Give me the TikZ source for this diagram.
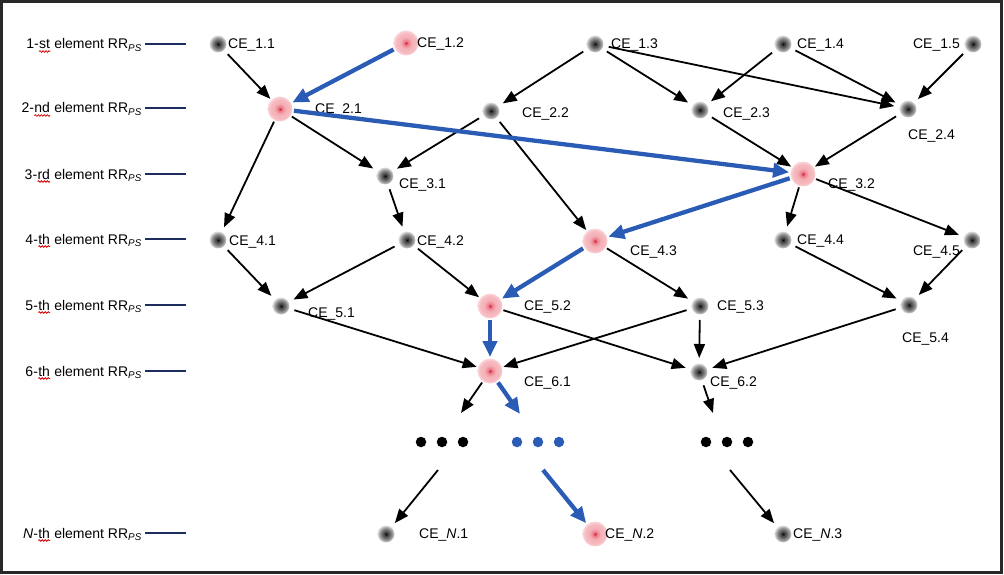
\documentclass[tikz,border=0pt]{standalone}
\usepackage{fontspec}
\setmainfont{Liberation Sans}
\usetikzlibrary{arrows.meta,decorations.pathmorphing}
\definecolor{pathblue}{RGB}{43,92,181}
\definecolor{navy}{RGB}{30,45,95}
\definecolor{framec}{RGB}{40,40,40}
\definecolor{rcore}{RGB}{205,30,60}
\definecolor{rmid}{RGB}{236,120,135}
\definecolor{rpink}{RGB}{244,175,182}
\definecolor{redge}{RGB}{250,215,218}
\pgfdeclareradialshading{graydot}{\pgfpoint{0bp}{0bp}}{color(0bp)=(black); color(4bp)=(black!78); color(12bp)=(black!58); color(19bp)=(black!38); color(25bp)=(black!12); color(50bp)=(white)}
\pgfdeclareradialshading{reddot}{\pgfpoint{0bp}{0bp}}{color(0bp)=(rcore); color(4bp)=(rmid); color(11bp)=(rpink); color(20bp)=(rpink!85!white); color(25bp)=(redge); color(50bp)=(white)}
\newcommand\squig[1]{\tikz[baseline=(sq.base)]{\node[inner sep=0pt,outer sep=0pt,anchor=base,text height=,text depth=](sq){#1};\draw[red!85!black,line width=0.8pt,decorate,decoration={snake,amplitude=0.8pt,segment length=3pt}]([yshift=-2.5pt]sq.base west)--([yshift=-2.5pt]sq.base east);}}
\begin{document}
\begin{tikzpicture}[x=1pt,y=-1pt,
  every node/.style={font=\fontsize{14}{16}\selectfont},
  gdot/.style={circle,inner sep=0pt,minimum size=17pt,shade,shading=graydot,outer sep=5.5pt},
  rdot/.style={circle,inner sep=0pt,minimum size=25pt,shade,shading=reddot,outer sep=1.5pt},
  lab/.style={inner sep=0pt,text height=10pt,text depth=0pt,anchor=west},
  labl/.style={inner sep=0pt,text height=10pt,text depth=0pt,anchor=east},
  leg/.style={inner sep=0pt,text height=10pt,text depth=0pt,anchor=east},
  legline/.style={draw=navy,line width=2.8pt},
  arr/.style={-{Triangle[length=14pt,width=11pt]},line width=1.8pt,black},
  barr/.style={-{Triangle[length=16pt,width=14pt]},line width=4.3pt,pathblue},
  bdot/.style={circle,fill=black,inner sep=0pt,minimum size=10.5pt},
  bluedot/.style={circle,fill=pathblue,inner sep=0pt,minimum size=10.5pt}]
\useasboundingbox (0,0) rectangle (1004,575);
\draw[framec,line width=2.5pt] (1.5,1.5) rectangle (1001.5,572.5);

% legend
\node[leg] (l1) at (142,44) {1-\squig{st} element RR\textsubscript{\textit{PS}}};
\node[leg] (l2) at (142,108) {2-\squig{nd} element RR\textsubscript{\textit{PS}}};
\node[leg] (l3) at (142,174) {3-\squig{rd} element RR\textsubscript{\textit{PS}}};
\node[leg] (l4) at (142,239) {4-\squig{th} element RR\textsubscript{\textit{PS}}};
\node[leg] (l5) at (142,305) {5-\squig{th} element RR\textsubscript{\textit{PS}}};
\node[leg] (l6) at (142,371) {6-\squig{th} element RR\textsubscript{\textit{PS}}};
\node[leg] (lN) at (142,533) {\textit{N}-\squig{th} element RR\textsubscript{\textit{PS}}};
\foreach \l in {l1,l2,l3,l4,l5,l6,lN}
  \draw[legline] ([xshift=3pt]\l.east) -- ++(41,0);

% dots
\node[gdot] (n11) at (218,44) {};
\node[rdot] (n12) at (406,43) {};
\node[gdot] (n13) at (595,44) {};
\node[gdot] (n14) at (783,44) {};
\node[gdot] (n15) at (973,44) {};
\node[rdot] (n21) at (280,109) {};
\node[gdot] (n22) at (491,111) {};
\node[gdot] (n23) at (700,110) {};
\node[gdot] (n24) at (908,109) {};
\node[gdot] (n31) at (385,176) {};
\node[rdot] (n32) at (803,174) {};
\node[gdot] (n41) at (218,240) {};
\node[gdot] (n42) at (407,240) {};
\node[rdot] (n43) at (595,241) {};
\node[gdot] (n44) at (783,240) {};
\node[gdot] (n45) at (972,240) {};
\node[gdot] (n51) at (281,306) {};
\node[rdot] (n52) at (490,306) {};
\node[gdot] (n53) at (700,306) {};
\node[gdot] (n54) at (909,305) {};
\node[rdot] (n61) at (490,371) {};
\node[gdot] (n62) at (699,372) {};
\node[gdot] (nN1) at (386,534) {};
\node[rdot] (nN2) at (595,534) {};
\node[gdot] (nN3) at (783,534) {};

% labels
\node[lab] (t11) at (228,44) {CE\_1.1};
\node[lab] (t12) at (417,43) {CE\_1.2};
\node[lab] (t13) at (611,44) {CE\_1.3};
\node[lab] (t14) at (797,44) {CE\_1.4};
\node[labl] (t15) at (960,44) {CE\_1.5};
\node[lab] (t21) at (315,109) {CE\_2.1};
\node[lab] (t22) at (522,113) {CE\_2.2};
\node[lab] (t23) at (723,113) {CE\_2.3};
\node[lab] (t24) at (908,135) {CE\_2.4};
\node[lab] (t31) at (399,184) {CE\_3.1};
\node[lab] (t32) at (828,183) {CE\_3.2};
\node[lab] (t41) at (229,240) {CE\_4.1};
\node[lab] (t42) at (417,240) {CE\_4.2};
\node[lab] (t43) at (630,250) {CE\_4.3};
\node[lab] (t44) at (797,239) {CE\_4.4};
\node[labl] (t45) at (960,250) {CE\_4.5};
\node[lab] (t51) at (308,312) {CE\_5.1};
\node[lab] (t52) at (524,305) {CE\_5.2};
\node[lab] (t53) at (717,305) {CE\_5.3};
\node[lab] (t54) at (902,337) {CE\_5.4};
\node[lab] (t61) at (524,381) {CE\_6.1};
\node[lab] (t62) at (710,381) {CE\_6.2};
\node[lab] (tN1) at (419,533) {CE\_\textit{N}.1};
\node[lab] (tN2) at (605,533) {CE\_\textit{N}.2};
\node[lab] (tN3) at (793,533) {CE\_\textit{N}.3};

% ellipsis dots
\node[bdot] (d1) at (421,442) {};
\node[bdot] (d2) at (442,442) {};
\node[bdot] (d3) at (463,442) {};
\node[bluedot] (d4) at (517,442) {};
\node[bluedot] (d5) at (538,442) {};
\node[bluedot] (d6) at (559,442) {};
\node[bdot] (d7) at (706,442) {};
\node[bdot] (d8) at (727,442) {};
\node[bdot] (d9) at (748,442) {};

\coordinate (e1) at (461,413);
\coordinate (e2) at (520,414);
\coordinate (e3) at (713,413);
\coordinate (s1) at (438,470);
\coordinate (s2) at (543,470);
\coordinate (s3) at (730,470);

% black arrows
\draw[arr] (n11) -- (n21);
\draw[arr] (n13) -- (n22);
\draw[arr] (n13) -- (n23);
\draw[arr] (n13) -- (n24);
\draw[arr] (n14) -- (n23);
\draw[arr] (n14) -- (n24);
\draw[arr] (n15) -- (n24);
\draw[arr] (n21) -- (n31);
\draw[arr] (n21) -- (n41);
\draw[arr] (n22) -- (n31);
\draw[arr] (n22) -- (n43);
\draw[arr] (n23) -- (n32);
\draw[arr] (n24) -- (n32);
\draw[arr] (n31) -- (n42);
\draw[arr] (n32) -- (n44);
\draw[arr] (n32) -- (n45);
\draw[arr] (n41) -- (n51);
\draw[arr] (n42) -- (n51);
\draw[arr] (n42) -- (n52);
\draw[arr] (n43) -- (n53);
\draw[arr] (n44) -- (n54);
\draw[arr] (n45) -- (n54);
\draw[arr] (n51) -- (n61);
\draw[arr] (n52) -- (n62);
\draw[arr] (n53) -- (n61);
\draw[arr] (n53) -- (n62);
\draw[arr] (n54) -- (n62);
\draw[arr] (n61) -- (e1);
\draw[arr] (n62) -- (e3);
\draw[arr] (s1) -- (nN1);
\draw[arr] (s3) -- (nN3);

% blue path
\draw[barr] (n12) -- (n21);
\draw[barr] (n21) -- (n32);
\draw[barr] (n32) -- (n43);
\draw[barr] (n43) -- (n52);
\draw[barr] (n52) -- (n61);
\draw[barr] (n61) -- (e2);
\draw[barr] (s2) -- (nN2);
\end{tikzpicture}
\end{document}
